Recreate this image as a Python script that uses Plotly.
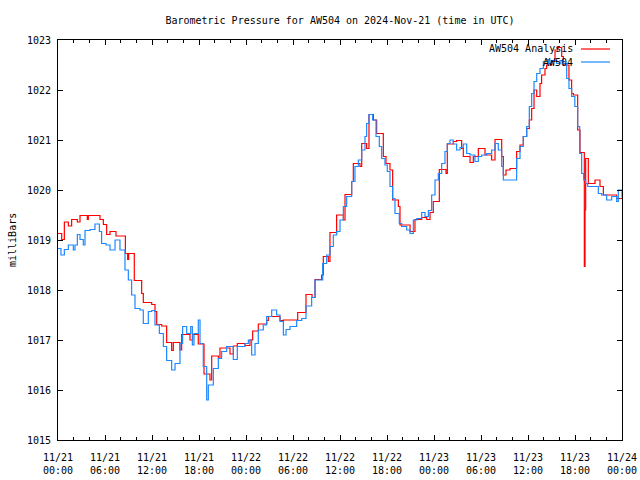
import datetime as dt
import plotly.graph_objects as go

# ---- data (hours since 2024-11-21 00:00 UTC, millibars) ----
analysis_hours = [0.0, 0.47, 0.81, 1.32, 1.74, 2.47, 2.81, 3.74, 3.87, 5.36, 5.79, 6.21, 6.64, 7.40,
                  8.60, 8.89, 9.02, 9.74, 10.68, 10.89, 11.96, 12.38, 12.60, 13.23, 13.87, 14.51,
                  14.72, 15.57, 15.79, 16.85, 17.19, 17.91, 18.64, 19.40, 19.62, 20.47, 20.68,
                  21.96, 22.38, 22.89, 23.87, 24.51, 24.85, 25.57, 26.64, 26.85, 28.34, 28.77,
                  30.60, 31.66, 32.43, 32.81, 33.66, 33.87, 34.51, 34.72, 35.57, 36.43, 36.64,
                  37.49, 37.70, 38.55, 38.77, 39.40, 39.70, 40.26, 40.68, 41.53, 41.87, 42.38,
                  42.72, 43.45, 43.66, 44.94, 45.57, 46.43, 47.07, 47.49, 47.91, 48.68, 49.53,
                  49.70, 50.47, 50.89, 51.53, 51.74, 52.60, 53.02, 53.66, 54.51, 55.36, 55.79,
                  56.64, 56.85, 57.19, 57.70, 58.55, 58.98, 59.40, 59.83, 60.17, 60.47, 60.77,
                  61.11, 61.53, 61.74, 62.17, 62.38, 63.02, 63.45, 63.79, 64.30, 64.51, 65.23,
                  65.57, 65.79, 66.34, 66.64, 67.19, 67.28, 67.36, 67.70, 68.55, 69.19, 69.62,
                  71.32, 72.0]
analysis_mb = [1019.13, 1019.01, 1019.36, 1019.28, 1019.41, 1019.36, 1019.49, 1019.41, 1019.49,
               1019.41, 1019.31, 1019.11, 1019.17, 1019.08, 1018.73, 1018.61, 1018.73, 1018.19,
               1017.93, 1017.75, 1017.71, 1017.57, 1017.31, 1017.28, 1016.95, 1016.79, 1016.95,
               1016.80, 1017.11, 1017.00, 1017.11, 1016.92, 1016.32, 1016.20, 1016.68, 1016.63,
               1016.84, 1016.72, 1016.88, 1016.93, 1016.89, 1017.00, 1017.18, 1017.32, 1017.39,
               1017.47, 1017.39, 1017.40, 1017.55, 1017.91, 1017.85, 1018.21, 1018.30, 1018.67,
               1018.57, 1019.15, 1019.50, 1019.40, 1019.91, 1020.17, 1020.53, 1020.47, 1020.93,
               1020.83, 1021.51, 1021.40, 1021.13, 1020.67, 1020.53, 1020.40, 1019.80, 1019.67,
               1019.30, 1019.17, 1019.41, 1019.45, 1019.41, 1019.55, 1019.77, 1020.41, 1020.33,
               1020.92, 1020.97, 1020.99, 1020.83, 1020.67, 1020.55, 1020.67, 1020.83, 1020.70,
               1020.60, 1021.01, 1020.67, 1020.30, 1020.40, 1020.43, 1020.77, 1020.90, 1021.07,
               1021.23, 1021.40, 1021.63, 1022.00, 1021.87, 1022.13, 1022.30, 1022.43, 1022.50,
               1022.57, 1022.80, 1022.85, 1022.67, 1022.50, 1022.20, 1021.93, 1021.90, 1021.20,
               1020.75, 1018.47, 1019.60, 1020.63, 1020.13, 1020.20, 1020.07, 1019.90, 1019.83,
               1019.83]

station_hours = [0.0, 0.38, 0.81, 1.32, 1.96, 2.17, 2.47, 2.81, 3.23, 3.45, 4.09, 4.72, 5.28, 5.57,
                 6.13, 6.64, 7.28, 7.91, 8.55, 8.98, 9.40, 9.83, 10.47, 10.89, 11.53, 11.96,
                 12.38, 12.94, 13.45, 13.87, 14.51, 14.94, 15.57, 15.91, 16.43, 16.94, 17.15,
                 17.36, 17.91, 18.13, 18.55, 18.98, 19.19, 19.83, 20.47, 20.89, 21.53, 22.38,
                 22.89, 23.87, 24.30, 24.72, 25.15, 25.57, 26.21, 26.64, 27.28, 27.91, 28.34,
                 28.77, 29.11, 29.62, 30.47, 31.11, 31.66, 32.38, 32.81, 33.79, 34.30, 34.72,
                 35.15, 35.57, 36.00, 36.43, 36.85, 37.49, 37.91, 38.34, 38.77, 39.19, 39.40,
                 39.70, 40.17, 40.60, 41.02, 41.32, 41.74, 42.04, 42.38, 42.72, 43.02, 43.57,
                 43.87, 44.51, 44.94, 45.36, 45.79, 46.43, 46.85, 47.28, 47.70, 48.13, 48.55,
                 48.98, 49.40, 49.70, 50.04, 50.47, 50.89, 51.32, 51.74, 52.17, 52.60, 53.23,
                 53.66, 54.09, 54.72, 55.36, 55.79, 56.21, 56.64, 56.85, 58.55, 58.98, 59.40,
                 59.83, 60.17, 60.47, 60.77, 61.11, 61.53, 61.96, 62.47, 62.60, 63.02, 63.66,
                 64.09, 64.51, 64.94, 65.23, 65.57, 65.98, 66.34, 66.60, 66.85, 67.11, 67.36,
                 67.62, 68.98, 69.40, 70.04, 70.68, 71.32, 71.53, 72.0]
station_mb = [1018.83, 1018.70, 1018.81, 1018.90, 1018.80, 1018.90, 1019.11, 1019.01, 1018.90,
              1019.19, 1019.21, 1019.32, 1019.17, 1018.93, 1018.90, 1018.80, 1019.00, 1018.80,
              1018.40, 1018.20, 1017.90, 1017.63, 1017.60, 1017.33, 1017.57, 1017.59, 1017.30,
              1017.13, 1016.87, 1016.59, 1016.40, 1016.53, 1016.93, 1017.27, 1017.13, 1017.27,
              1016.90, 1017.13, 1017.40, 1016.93, 1016.47, 1015.80, 1016.10, 1016.43, 1016.63,
              1016.77, 1016.87, 1016.61, 1016.87, 1016.93, 1017.00, 1016.70, 1016.93, 1017.20,
              1017.30, 1017.47, 1017.60, 1017.50, 1017.37, 1017.10, 1017.21, 1017.27, 1017.39,
              1017.43, 1017.68, 1017.85, 1018.20, 1018.53, 1018.70, 1018.87, 1019.10, 1019.17,
              1019.40, 1019.67, 1019.87, 1020.17, 1020.47, 1020.60, 1020.80, 1021.07, 1021.33,
              1021.51, 1021.40, 1021.07, 1020.87, 1020.63, 1020.50, 1020.37, 1020.07, 1019.83,
              1019.53, 1019.33, 1019.27, 1019.20, 1019.13, 1019.40, 1019.43, 1019.55, 1019.47,
              1019.59, 1019.90, 1020.20, 1020.33, 1020.53, 1020.77, 1020.93, 1021.00, 1020.92,
              1020.80, 1020.85, 1020.92, 1020.73, 1020.70, 1020.57, 1020.67, 1020.70, 1020.73,
              1020.80, 1020.93, 1020.80, 1020.47, 1020.20, 1020.63, 1020.87, 1021.07, 1021.27,
              1021.67, 1021.93, 1022.17, 1022.33, 1022.43, 1022.57, 1022.61, 1022.53, 1022.59,
              1022.53, 1022.59, 1022.53, 1022.23, 1022.03, 1021.87, 1021.67, 1021.27, 1020.73,
              1020.33, 1020.20, 1020.13, 1020.07, 1019.93, 1019.90, 1019.80, 1019.87, 1019.77,
              1020.00, 1019.85]

tick_hours = [0, 6, 12, 18, 24, 30, 36, 42, 48, 54, 60, 66, 72]
tick_labels = ["11/21<br>00:00", "11/21<br>06:00", "11/21<br>12:00", "11/21<br>18:00",
               "11/22<br>00:00", "11/22<br>06:00", "11/22<br>12:00", "11/22<br>18:00",
               "11/23<br>00:00", "11/23<br>06:00", "11/23<br>12:00", "11/23<br>18:00",
               "11/24<br>00:00"]
series_names = ["AW504 Analysis", "AW504"]
series_colors = ["#ff0000", "#1e88ff"]

base = dt.datetime(2024, 11, 21)
def to_time(hours):
    return [base + dt.timedelta(hours=h) for h in hours]

FONT = "DejaVu Sans Mono"

fig = go.Figure()
fig.add_trace(go.Scatter(x=to_time(analysis_hours), y=analysis_mb, mode="lines",
                         line=dict(color=series_colors[0], width=1.2, shape="hv"),
                         name=series_names[0], showlegend=False))
fig.add_trace(go.Scatter(x=to_time(station_hours), y=station_mb, mode="lines",
                         line=dict(color=series_colors[1], width=1.2, shape="hv"),
                         name=series_names[1], showlegend=False))

# gnuplot-style key: text right-aligned, sample line to the right
key_rows = [0.9775, 0.945]
for name, color, yy in zip(series_names, series_colors, key_rows):
    fig.add_annotation(x=0.9167, y=yy, xref="paper", yref="paper", text=name,
                       showarrow=False, xanchor="right", yanchor="middle",
                       font=dict(family=FONT, size=10, color="black"))
    fig.add_shape(type="line", xref="paper", yref="paper", x0=0.9273, x1=0.9787,
                  y0=yy, y1=yy, line=dict(color=color, width=1.2))

fig.add_annotation(x=-0.0816, y=0.5, xref="paper", yref="paper", text="milliBars",
                   textangle=-90, showarrow=False, xanchor="center", yanchor="middle",
                   font=dict(family=FONT, size=10, color="black"))

fig.update_layout(
    width=640, height=480,
    margin=dict(l=58, r=18, t=40, b=40, autoexpand=False),
    paper_bgcolor="white", plot_bgcolor="white",
    font=dict(family=FONT, size=10, color="black"),
    title=dict(text="Barometric Pressure for AW504 on 2024-Nov-21 (time in UTC)",
               x=0.5, xref="paper", xanchor="center", y=1 - 20 / 480, yanchor="middle",
               font=dict(family=FONT, size=10, color="black")),
    showlegend=False,
)
fig.update_xaxes(
    range=[base, base + dt.timedelta(hours=72)], automargin=False,
    tickvals=to_time(tick_hours), ticktext=tick_labels,
    ticks="inside", ticklen=5, tickwidth=1, tickcolor="black",
    minor=dict(dtick=7200000, tick0=base, ticks="inside", ticklen=3, tickcolor="black", tickwidth=1),
    showline=True, linecolor="black", linewidth=1, mirror="ticks",
    showgrid=False, zeroline=False, ticklabelstandoff=8,
    tickfont=dict(family=FONT, size=10, color="black"),
)
fig.update_yaxes(
    range=[1015, 1023], dtick=1, tick0=1015, automargin=False,
    ticks="inside", ticklen=5, tickwidth=1, tickcolor="black",
    showline=True, linecolor="black", linewidth=1, mirror="ticks",
    showgrid=False, zeroline=False, ticklabelstandoff=4,
    tickfont=dict(family=FONT, size=10, color="black"),
)

fig.write_html("out.html", config={"displayModeBar": False},
               post_script="document.body.style.margin='0';document.body.style.padding='0';")
